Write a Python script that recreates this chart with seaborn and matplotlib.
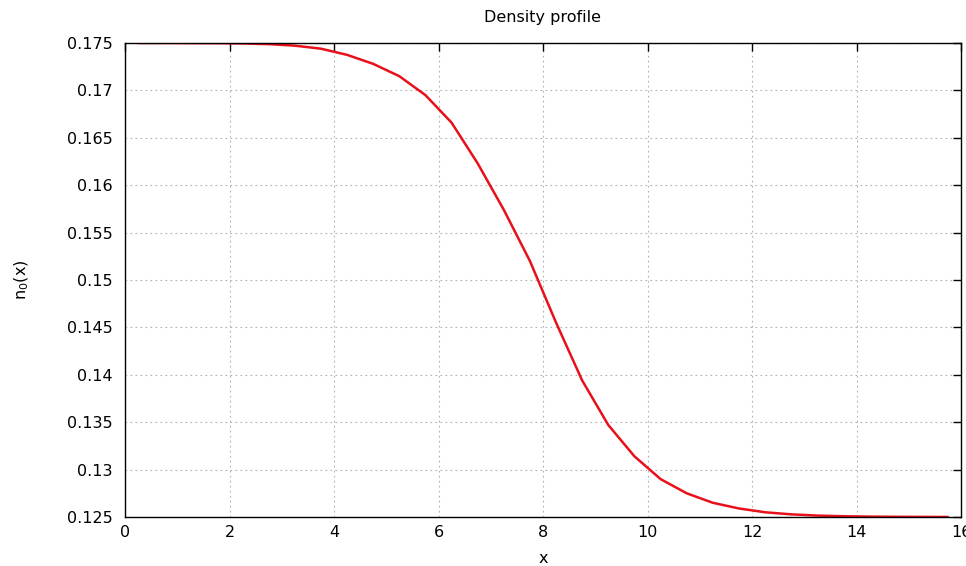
import matplotlib
matplotlib.use("Agg")
import matplotlib.pyplot as plt
import seaborn as sns
import pandas as pd

x_vals = [0.25, 0.75, 1.25, 1.75, 2.25, 2.75, 3.25, 3.75, 4.25, 4.75,
          5.25, 5.75, 6.25, 6.75, 7.25, 7.75, 8.25, 8.75, 9.25, 9.75,
          10.25, 10.75, 11.25, 11.75, 12.25, 12.75, 13.25, 13.75, 14.25,
          14.75, 15.25, 15.75]
n0_vals = [0.17500, 0.17500, 0.17499, 0.17498, 0.17495, 0.17488, 0.17472,
           0.17440, 0.17375, 0.17280, 0.17150, 0.16950, 0.16660, 0.16230,
           0.15740, 0.15200, 0.14550, 0.13940, 0.13470, 0.13140, 0.12900,
           0.12750, 0.12650, 0.12590, 0.12550, 0.12528, 0.12515, 0.12508,
           0.12504, 0.12502, 0.12501, 0.12500]
x_ticks = [0, 2, 4, 6, 8, 10, 12, 14, 16]
y_ticks = [0.125, 0.13, 0.135, 0.14, 0.145, 0.15, 0.155, 0.16, 0.165, 0.17, 0.175]
y_tick_labels = ["0.125", "0.13", "0.135", "0.14", "0.145", "0.15", "0.155",
                 "0.16", "0.165", "0.17", "0.175"]

sns.set_style("white")
plt.rcParams['font.family'] = ['DejaVu Sans']
plt.rcParams['text.color'] = 'black'
plt.rcParams['axes.labelcolor'] = 'black'

df = pd.DataFrame({"x": x_vals, "n0": n0_vals})

fig = plt.figure(figsize=(9.66, 5.66), dpi=100)
ax = fig.add_axes([125/966, 1-517/566, (961-125)/966, (517-43)/566])
sns.lineplot(data=df, x="x", y="n0", ax=ax, color="#e8101a", linewidth=1.8)

ax.set_xlim(0, 16)
ax.set_ylim(0.125, 0.175)
ax.set_xticks(x_ticks)
ax.set_xticklabels([str(t) for t in x_ticks])
ax.set_yticks(y_ticks)
ax.set_yticklabels(y_tick_labels)
ax.grid(True, color="#b0b0b0", linestyle=(0, (1.5, 3)), linewidth=0.8)
for s in ax.spines.values():
    s.set_color("black")
    s.set_linewidth(1.0)
    s.set_visible(True)
ax.tick_params(direction="in", length=6, width=1, top=True, right=True,
               labelsize=11.5, colors="black")
ax.tick_params(axis="y", pad=9)
ax.tick_params(axis="x", pad=6)
ax.set_title("Density profile", fontsize=11.5, pad=15, color="black")
ax.set_xlabel("x", fontsize=11.5, labelpad=8, color="black")
ax.set_ylabel(r"n$_0$(x)", fontsize=11.5, labelpad=26, color="black")

fig.savefig("out.png", dpi=100)
